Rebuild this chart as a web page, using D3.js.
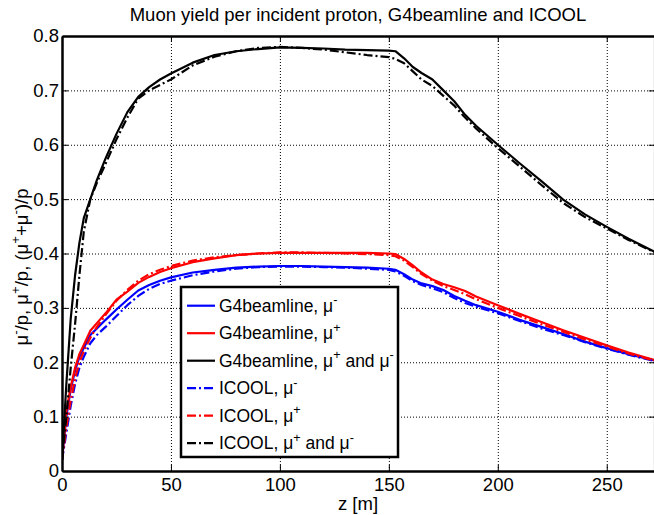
<!DOCTYPE html>
<html><head><meta charset="utf-8">
<script src="https://cdn.jsdelivr.net/npm/d3@7"></script>
<style>body{margin:0;background:#fff} text{font-family:"Liberation Sans",Arial,Helvetica,sans-serif;fill:#000}</style>
</head><body><svg id="c" width="654" height="515"></svg>
<script>
// ---- data ----
const z = [0, 2, 4, 6, 8, 10, 13, 16, 20, 25, 30, 35, 40, 45, 50, 60, 70, 80, 90, 100, 110, 120, 130, 140, 150, 153, 157, 161, 165, 170, 175, 180, 185, 190, 200, 210, 220, 230, 240, 250, 260, 272];
const g4MuMinus = [0.02, 0.10, 0.15, 0.185, 0.21, 0.226, 0.25, 0.262, 0.278, 0.297, 0.315, 0.332, 0.342, 0.35, 0.356, 0.365, 0.37, 0.374, 0.376, 0.377, 0.377, 0.376, 0.375, 0.374, 0.372, 0.37, 0.362, 0.352, 0.345, 0.34, 0.333, 0.322, 0.313, 0.305, 0.293, 0.278, 0.265, 0.252, 0.238, 0.226, 0.215, 0.203];
const g4MuPlus = [0.02, 0.11, 0.155, 0.19, 0.215, 0.232, 0.258, 0.272, 0.29, 0.315, 0.33, 0.346, 0.357, 0.366, 0.373, 0.384, 0.391, 0.397, 0.400, 0.401, 0.401, 0.401, 0.401, 0.401, 0.400, 0.399, 0.39, 0.378, 0.365, 0.352, 0.344, 0.338, 0.331, 0.321, 0.305, 0.289, 0.274, 0.259, 0.245, 0.231, 0.218, 0.204];
const g4Both = [0.02, 0.16, 0.28, 0.36, 0.42, 0.465, 0.50, 0.535, 0.575, 0.62, 0.66, 0.688, 0.706, 0.72, 0.731, 0.751, 0.765, 0.772, 0.776, 0.779, 0.778, 0.777, 0.775, 0.774, 0.773, 0.772, 0.759, 0.743, 0.732, 0.72, 0.70, 0.68, 0.655, 0.635, 0.600, 0.566, 0.533, 0.499, 0.472, 0.449, 0.427, 0.403];
const icoolMuMinus = [0.02, 0.07, 0.12, 0.16, 0.19, 0.21, 0.235, 0.25, 0.265, 0.285, 0.305, 0.322, 0.335, 0.344, 0.35, 0.36, 0.367, 0.372, 0.375, 0.376, 0.376, 0.375, 0.374, 0.372, 0.370, 0.367, 0.359, 0.349, 0.342, 0.336, 0.329, 0.318, 0.309, 0.302, 0.290, 0.276, 0.262, 0.250, 0.237, 0.225, 0.214, 0.202];
const icoolMuPlus = [0.02, 0.08, 0.13, 0.17, 0.20, 0.22, 0.245, 0.265, 0.287, 0.313, 0.333, 0.35, 0.362, 0.37, 0.377, 0.387, 0.393, 0.397, 0.400, 0.402, 0.402, 0.401, 0.400, 0.399, 0.397, 0.395, 0.387, 0.375, 0.362, 0.350, 0.340, 0.333, 0.325, 0.316, 0.300, 0.285, 0.270, 0.256, 0.242, 0.229, 0.216, 0.203];
const icoolBoth = [0.02, 0.10, 0.19, 0.27, 0.36, 0.44, 0.50, 0.53, 0.565, 0.61, 0.65, 0.685, 0.70, 0.71, 0.72, 0.746, 0.762, 0.772, 0.778, 0.780, 0.778, 0.775, 0.770, 0.765, 0.761, 0.758, 0.750, 0.735, 0.72, 0.708, 0.69, 0.672, 0.650, 0.63, 0.594, 0.560, 0.526, 0.493, 0.467, 0.446, 0.425, 0.402];
const xTicks = [0, 50, 100, 150, 200, 250];
const yTicks = [0, 0.1, 0.2, 0.3, 0.4, 0.5, 0.6, 0.7, 0.8];
const yTickLabels = ["0", "0.1", "0.2", "0.3", "0.4", "0.5", "0.6", "0.7", "0.8"];
const legendLabels = [
  [["G4beamline, \u03bc"], ["-", 1]],
  [["G4beamline, \u03bc"], ["+", 1]],
  [["G4beamline, \u03bc"], ["+", 1], [" and \u03bc"], ["-", 1]],
  [["ICOOL, \u03bc"], ["-", 1]],
  [["ICOOL, \u03bc"], ["+", 1]],
  [["ICOOL, \u03bc"], ["+", 1], [" and \u03bc"], ["-", 1]]
];
const titleText = "Muon yield per incident proton, G4beamline and ICOOL";
const xLabelText = "z [m]";
const yLabelParts = [["\u03bc"], ["-", 1], ["/p, \u03bc"], ["+", 1], ["/p, (\u03bc"], ["+", 1], ["+\u03bc"], ["-", 1], [")/p"]];

// ---- styles ----
const DASHDOT = "9,3,2,3";
const series = [
  {v: g4MuMinus, color: "#0000ff", dash: null},
  {v: g4MuPlus, color: "#ff0000", dash: null},
  {v: g4Both, color: "#000000", dash: null},
  {v: icoolMuMinus, color: "#0000ff", dash: DASHDOT},
  {v: icoolMuPlus, color: "#ff0000", dash: DASHDOT},
  {v: icoolBoth, color: "#000000", dash: DASHDOT}
];

const L = 62, R = 654.7, T = 36, B = 471;
const svg = d3.select("#c");
const x = d3.scaleLinear().domain([0, 272]).range([L, R]);
const y = d3.scaleLinear().domain([0, 0.8]).range([B, T]);
const FS = 18.5;

svg.append("rect").attr("width", 654).attr("height", 515).attr("fill", "#fff");

// grid
const grid = svg.append("g");
grid.append("g").attr("transform", `translate(0,${B})`)
  .call(d3.axisBottom(x).tickValues(xTicks).tickSize(-(B - T)).tickFormat(""))
  .call(g => g.select(".domain").remove());
grid.append("g").attr("transform", `translate(${L},0)`)
  .call(d3.axisLeft(y).tickValues(yTicks).tickSize(-(R - L)).tickFormat(""))
  .call(g => g.select(".domain").remove());
grid.selectAll("line").attr("stroke", "#000").attr("stroke-width", 1).attr("stroke-dasharray", "1,2");

// curves
svg.append("clipPath").attr("id", "clip").append("rect").attr("x", L).attr("y", T).attr("width", R - L).attr("height", B - T);
const line = d3.line().x((d, i) => x(z[i])).y(d => y(d));
const plot = svg.append("g").attr("clip-path", "url(#clip)");
series.forEach(s => {
  plot.append("path").attr("d", line(s.v)).attr("fill", "none").attr("stroke", s.color)
    .attr("stroke-width", 2.2).attr("stroke-linejoin", "round")
    .attr("stroke-dasharray", s.dash);
});

// axes
function styleAxis(g) {
  g.select(".domain").attr("stroke", "#000").attr("stroke-width", 2.5);
  g.selectAll(".tick line").attr("stroke", "#000").attr("stroke-width", 1);
  g.selectAll("text").attr("font-size", FS).attr("font-family", '"Liberation Sans",Arial,sans-serif').attr("fill", "#000");
}
svg.append("g").attr("transform", `translate(0,${B})`)
  .call(d3.axisBottom(x).tickValues(xTicks).tickSize(-6).tickSizeOuter(0).tickPadding(7))
  .call(styleAxis);
svg.append("g").attr("transform", `translate(0,${T})`)
  .call(d3.axisTop(x).tickValues(xTicks).tickSize(-6).tickSizeOuter(0).tickFormat(""))
  .call(styleAxis);
svg.append("g").attr("transform", `translate(${L},0)`)
  .call(d3.axisLeft(y).tickValues(yTicks).tickSize(-6).tickSizeOuter(0).tickPadding(3).tickFormat((d, i) => yTickLabels[i]))
  .call(styleAxis);
svg.append("g").attr("transform", `translate(${R},0)`)
  .call(d3.axisRight(y).tickValues(yTicks).tickSize(-6).tickSizeOuter(0).tickFormat(""))
  .call(styleAxis);

// rich text helper
function rich(textSel, parts, size) {
  parts.forEach((p, i) => {
    const sup = p[1] === 1;
    const prevSup = i > 0 && parts[i - 1][1] === 1;
    const ts = textSel.append("tspan").text(p[0]);
    if (sup) ts.attr("font-size", size * 0.72).attr("dy", -size * 0.42);
    else if (prevSup) ts.attr("dy", size * 0.42);
  });
}

// title & labels
svg.append("text").attr("x", 358).attr("y", 21).attr("text-anchor", "middle").attr("font-size", FS).text(titleText);
svg.append("text").attr("x", 358).attr("y", 510).attr("text-anchor", "middle").attr("font-size", FS).text(xLabelText);
const yl = svg.append("text").attr("transform", "translate(28,267) rotate(-90)").attr("text-anchor", "middle").attr("font-size", FS);
rich(yl, yLabelParts, FS);

// legend
const LX = 181, LY = 287, LW = 217, LH = 170, LFS = 17.5;
const lg = svg.append("g");
lg.append("rect").attr("x", LX).attr("y", LY).attr("width", LW).attr("height", LH)
  .attr("fill", "#fff").attr("stroke", "#000").attr("stroke-width", 2.5);
legendLabels.forEach((lab, i) => {
  const cy = 305.7 + i * 27.5;
  const s = series[i];
  lg.append("line").attr("x1", 187).attr("x2", 215).attr("y1", cy).attr("y2", cy)
    .attr("stroke", s.color).attr("stroke-width", 2.2).attr("stroke-dasharray", s.dash);
  const t = lg.append("text").attr("x", 219).attr("y", cy + 6).attr("font-size", LFS);
  rich(t, lab, LFS);
});
</script>
</body></html>
